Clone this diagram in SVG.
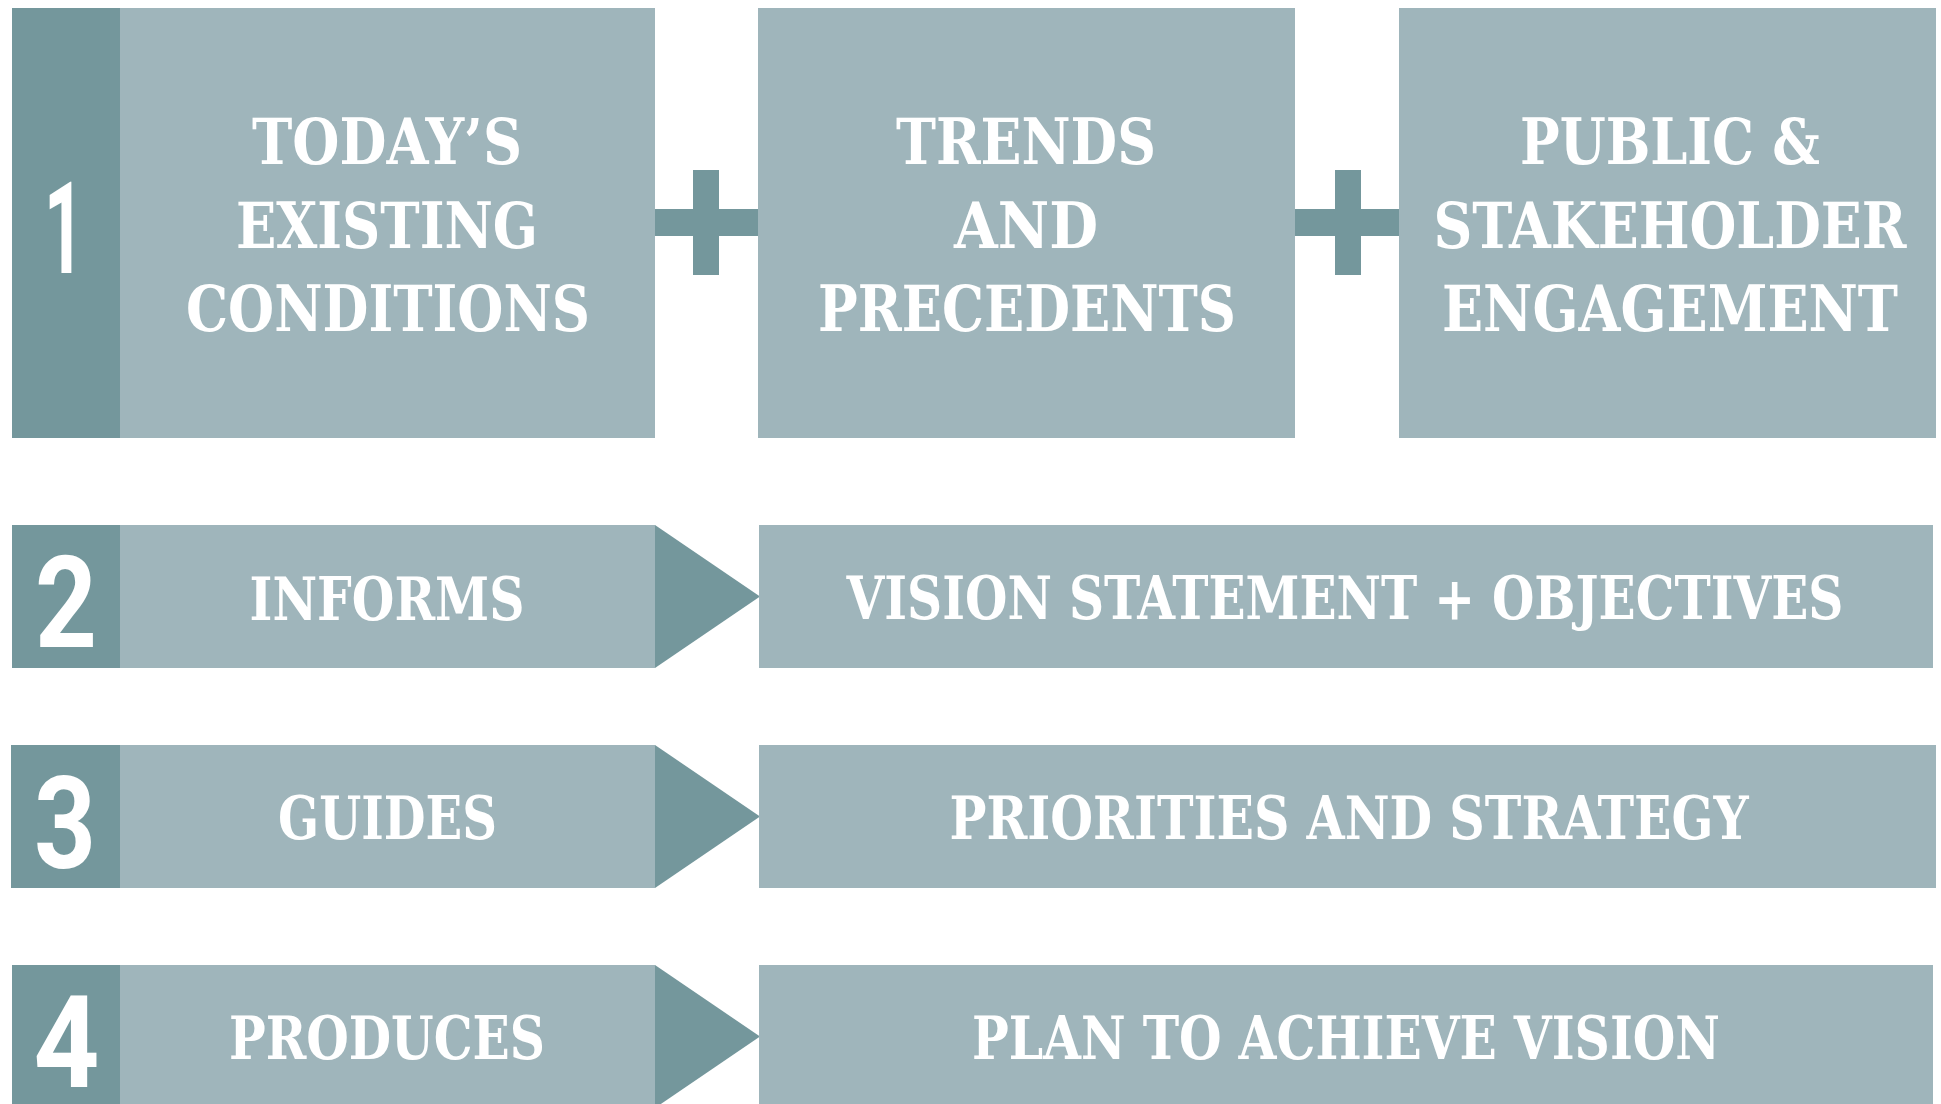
<svg xmlns="http://www.w3.org/2000/svg" width="1941" height="1104" viewBox="0 0 1941 1104">
<style>
.lt{fill:#9fb5bb}
.dk{fill:#74979c}
.lbl{font-family:"DejaVu Serif Condensed","DejaVu Serif",serif;font-weight:bold;fill:#ffffff;text-anchor:middle}
.big{font-size:63px}
.mid{font-size:59px}
.num{font-family:Roboto,"DejaVu Sans Condensed",sans-serif;font-weight:700;font-size:128px;fill:#ffffff;text-anchor:middle}
</style>
<rect width="1941" height="1104" fill="#ffffff"/>
<g id="connectors">
<rect class="dk" x="655" y="209" width="104" height="27"/>
<rect class="dk" x="693" y="170" width="26" height="105"/>
<rect class="dk" x="1295" y="209" width="104" height="27"/>
<rect class="dk" x="1335" y="170" width="26" height="105"/>
<polygon class="dk" points="655,525 760,596.5 655,668"/>
<polygon class="dk" points="655,745 760,816.5 655,888"/>
<polygon class="dk" points="655,965 760,1036.5 655,1108"/>
</g>
<g id="node-existing">
<rect class="lt" x="12" y="8" width="643" height="430"/>
<rect class="dk" x="12" y="8" width="108" height="430"/>
<text class="num" x="64" y="273" textLength="40" lengthAdjust="spacingAndGlyphs">1</text>
<text class="lbl big" x="387" y="164" textLength="270" lengthAdjust="spacingAndGlyphs">TODAY’S</text>
<text class="lbl big" x="387" y="248" textLength="302" lengthAdjust="spacingAndGlyphs">EXISTING</text>
<text class="lbl big" x="388" y="331" textLength="404" lengthAdjust="spacingAndGlyphs">CONDITIONS</text>
</g>
<g id="node-trends">
<rect class="lt" x="758" y="8" width="537" height="430"/>
<text class="lbl big" x="1026" y="164" textLength="260" lengthAdjust="spacingAndGlyphs">TRENDS</text>
<text class="lbl big" x="1026" y="248" textLength="144" lengthAdjust="spacingAndGlyphs">AND</text>
<text class="lbl big" x="1027" y="331" textLength="418" lengthAdjust="spacingAndGlyphs">PRECEDENTS</text>
</g>
<g id="node-public">
<rect class="lt" x="1399" y="8" width="537" height="430"/>
<text class="lbl big" x="1670" y="164" textLength="300" lengthAdjust="spacingAndGlyphs">PUBLIC &amp;</text>
<text class="lbl big" x="1670" y="248" textLength="473" lengthAdjust="spacingAndGlyphs">STAKEHOLDER</text>
<text class="lbl big" x="1670" y="331" textLength="456" lengthAdjust="spacingAndGlyphs">ENGAGEMENT</text>
</g>
<g id="node-informs">
<rect class="lt" x="12" y="525" width="643" height="143"/>
<rect class="dk" x="12" y="525" width="108" height="143"/>
<text class="num" x="66" y="647" textLength="62" lengthAdjust="spacingAndGlyphs">2</text>
<text class="lbl mid" x="387" y="620" textLength="275" lengthAdjust="spacingAndGlyphs">INFORMS</text>
</g>
<g id="node-vision">
<rect class="lt" x="759" y="525" width="1174" height="143"/>
<text class="lbl mid" x="1345" y="619" textLength="997" lengthAdjust="spacingAndGlyphs">VISION STATEMENT + OBJECTIVES</text>
</g>
<g id="node-guides">
<rect class="lt" x="11" y="745" width="644" height="143"/>
<rect class="dk" x="11" y="745" width="109" height="143"/>
<text class="num" x="65" y="868" textLength="62" lengthAdjust="spacingAndGlyphs">3</text>
<text class="lbl mid" x="387.5" y="839" textLength="219" lengthAdjust="spacingAndGlyphs">GUIDES</text>
</g>
<g id="node-priorities">
<rect class="lt" x="759" y="745" width="1177" height="143"/>
<text class="lbl mid" x="1349" y="839" textLength="799" lengthAdjust="spacingAndGlyphs">PRIORITIES AND STRATEGY</text>
</g>
<g id="node-produces">
<rect class="lt" x="12" y="965" width="643" height="143"/>
<rect class="dk" x="12" y="965" width="108" height="143"/>
<text class="num" x="66.5" y="1087" textLength="66" lengthAdjust="spacingAndGlyphs">4</text>
<text class="lbl mid" x="387" y="1059" textLength="316" lengthAdjust="spacingAndGlyphs">PRODUCES</text>
</g>
<g id="node-plan">
<rect class="lt" x="759" y="965" width="1174" height="143"/>
<text class="lbl mid" x="1346" y="1059" textLength="748" lengthAdjust="spacingAndGlyphs">PLAN TO ACHIEVE VISION</text>
</g>
</svg>
